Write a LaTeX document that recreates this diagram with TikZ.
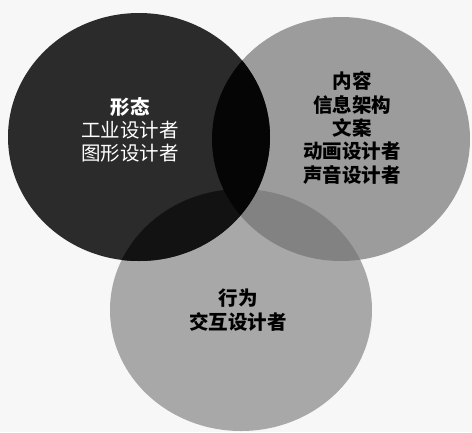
\documentclass[tikz,border=0pt]{standalone}
\usepackage{fontspec}
\newfontfamily\cjk{Noto Sans CJK SC}
\definecolor{bg}{HTML}{F7F7F7}
\definecolor{cDark}{HTML}{2B2B2B}
\definecolor{cRight}{HTML}{9C9C9C}
\definecolor{cBottom}{HTML}{A8A8A8}
\definecolor{cRB}{HTML}{828282}
\definecolor{cDB}{HTML}{121212}
\definecolor{cDR}{HTML}{050505}
\tikzset{
  lbl/.style={align=center, font=\cjk\fontsize{19.5}{23.3}\selectfont, inner sep=0pt},
}
\newcommand{\darkE}{(139,137) ellipse [x radius=131, y radius=124]}
\newcommand{\rightE}{(341,139) ellipse [x radius=129, y radius=122]}
\newcommand{\bottomE}{(241,310) ellipse [x radius=131, y radius=121]}
\begin{document}
\begin{tikzpicture}[x=1pt,y=-1pt]
\fill[bg] (0,0) rectangle (472,432);
\useasboundingbox (0,0) rectangle (472,432);
\fill[cRight] \rightE;
\fill[cBottom] \bottomE;
\fill[cDark] \darkE;
\begin{scope}
  \clip \rightE;
  \fill[cRB] \bottomE;
\end{scope}
\begin{scope}
  \clip \darkE;
  \fill[cDB] \bottomE;
  \fill[cDR] \rightE;
\end{scope}
\node[lbl, text=white] (form) at (130,130) {\textbf{形态}\\工业设计者\\图形设计者};
\node[lbl, text=black] (content) at (352,128) {\textbf{内容}\\\textbf{信息架构}\\\textbf{文案}\\\textbf{动画设计者}\\\textbf{声音设计者}};
\node[lbl, text=black] (behavior) at (238,310) {\textbf{行为}\\\textbf{交互设计者}};
\end{tikzpicture}
\end{document}
